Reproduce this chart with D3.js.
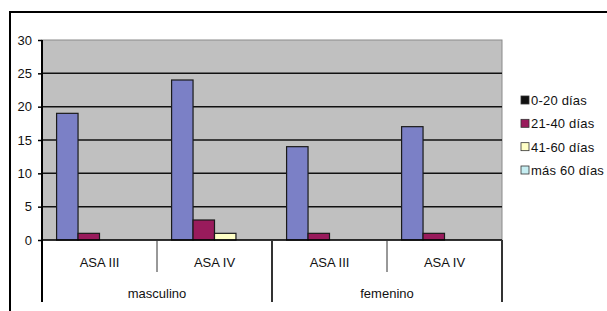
<!DOCTYPE html>
<html>
<head>
<meta charset="utf-8">
<script src="https://cdn.jsdelivr.net/npm/d3@7"></script>
<style>
  body { margin: 0; background: #fff; }
  svg { display: block; font-family: "Liberation Sans", Arial, sans-serif; }
</style>
</head>
<body>
<div id="chart"></div>
<script>
var groups = ["masculino", "femenino"],
    categories = ["ASA III", "ASA IV"],
    seriesNames = ["0-20 días", "21-40 días", "41-60 días", "más 60 días"],
    seriesColors = ["#7b80c6", "#991b5c", "#ffffc6", "#c6eef2"],
    legendColors = ["#111111", "#991b5c", "#ffffc6", "#c6eef2"],
    yTicks = [0, 5, 10, 15, 20, 25, 30];

// one array per series, order: masc ASA III, masc ASA IV, fem ASA III, fem ASA IV
var d0_20 = [19, 24, 14, 17],
    d21_40 = [1, 3, 1, 1],
    d41_60 = [0, 1, 0, 0],
    d60mas = [0, 0, 0, 0];

var W = 607, H = 311,
    margin = { top: 40, left: 42 },
    width = 460,
    height = 200;

var svg = d3.select("#chart").append("svg")
    .attr("width", W)
    .attr("height", H);

// outer frame (runs off the right/bottom edge like the scan)
svg.append("rect")
    .attr("x", 10).attr("y", 12)
    .attr("width", W + 20).attr("height", H + 20)
    .attr("fill", "#fff")
    .attr("stroke", "#000")
    .attr("stroke-width", 2);

var g = svg.append("g")
    .attr("transform", "translate(" + margin.left + "," + margin.top + ")");

var cells = [];
groups.forEach(function (gr) {
    categories.forEach(function (c) { cells.push(gr + "|" + c); });
});

var data = cells.map(function (k, i) {
    return { key: k, values: [d0_20[i], d21_40[i], d41_60[i], d60mas[i]] };
});

var x0 = d3.scaleBand().domain(cells).range([0, width]);
var x1 = d3.scaleBand().domain(d3.range(seriesNames.length))
    .range([0, x0.bandwidth()]).paddingOuter(0.68).paddingInner(0);
var y = d3.scaleLinear().domain([0, 30]).range([height, 0]);

// plot area
g.append("rect")
    .attr("width", width).attr("height", height)
    .attr("fill", "#c0c0c0")
    .attr("stroke", "#8a8a8a");

// gridlines
g.selectAll(".grid")
    .data(yTicks.filter(function (t) { return t > 0 && t < 30; }))
    .enter().append("line")
    .attr("x1", 0).attr("x2", width)
    .attr("y1", function (d) { return y(d); })
    .attr("y2", function (d) { return y(d); })
    .attr("stroke", "#111")
    .attr("stroke-width", 1.5);

// bars
var cell = g.selectAll(".cell")
    .data(data)
    .enter().append("g")
    .attr("transform", function (d) { return "translate(" + x0(d.key) + ",0)"; });

cell.selectAll("rect")
    .data(function (d) { return d.values.map(function (v, i) { return { i: i, v: v }; }); })
    .enter().filter(function (d) { return d.v > 0; })
    .append("rect")
    .attr("x", function (d) { return x1(d.i); })
    .attr("width", x1.bandwidth())
    .attr("y", function (d) { return y(d.v); })
    .attr("height", function (d) { return y(0) - y(d.v); })
    .attr("fill", function (d) { return seriesColors[d.i]; })
    .attr("stroke", "#1a1a1a")
    .attr("stroke-width", 1.2);

// y axis
var yAxis = g.append("g")
    .call(d3.axisLeft(y).tickValues(yTicks).tickSize(4).tickPadding(6));
yAxis.select(".domain").remove();
yAxis.selectAll("line").attr("stroke", "#000").attr("stroke-width", 1.5);
yAxis.selectAll("text")
    .attr("font-size", 13)
    .attr("fill", "#111")
    .attr("font-family", "Liberation Sans, Arial, sans-serif");

// axis lines
g.append("line")
    .attr("x1", 0).attr("x2", 0).attr("y1", 0).attr("y2", height + 62)
    .attr("stroke", "#000").attr("stroke-width", 2);
g.append("line")
    .attr("x1", 0).attr("x2", width).attr("y1", y(0)).attr("y2", y(0))
    .attr("stroke", "#000").attr("stroke-width", 1.5);

// category separators and labels
cells.forEach(function (k, i) {
    var right = x0(k) + x0.bandwidth();
    var groupEnd = (i % categories.length) === categories.length - 1;
    g.append("line")
        .attr("x1", right).attr("x2", right)
        .attr("y1", height).attr("y2", height + (groupEnd ? 62 : 32))
        .attr("stroke", "#333").attr("stroke-width", groupEnd ? 2 : 1);
    g.append("text")
        .attr("x", x0(k) + x0.bandwidth() / 2)
        .attr("y", height + 27)
        .attr("text-anchor", "middle")
        .attr("font-size", 13)
        .attr("fill", "#111")
        .text(k.split("|")[1]);
});

groups.forEach(function (gr) {
    var a = x0(gr + "|" + categories[0]),
        b = x0(gr + "|" + categories[categories.length - 1]) + x0.bandwidth();
    g.append("text")
        .attr("x", (a + b) / 2)
        .attr("y", height + 58)
        .attr("text-anchor", "middle")
        .attr("font-size", 13)
        .attr("fill", "#111")
        .text(gr);
});

// legend
var legend = svg.append("g")
    .attr("transform", "translate(521,96)");

var ly = d3.scalePoint().domain(seriesNames).range([0, 70]);

var item = legend.selectAll(".item")
    .data(seriesNames)
    .enter().append("g")
    .attr("transform", function (d) { return "translate(0," + ly(d) + ")"; });

item.append("rect")
    .attr("width", 8).attr("height", 8)
    .attr("fill", function (d, i) { return legendColors[i]; })
    .attr("stroke", "#333").attr("stroke-width", 0.8);

item.append("text")
    .attr("x", 10).attr("y", 9)
    .attr("font-size", 13)
    .attr("letter-spacing", 0.2)
    .attr("fill", "#111")
    .text(function (d) { return d; });
</script>
</body>
</html>
